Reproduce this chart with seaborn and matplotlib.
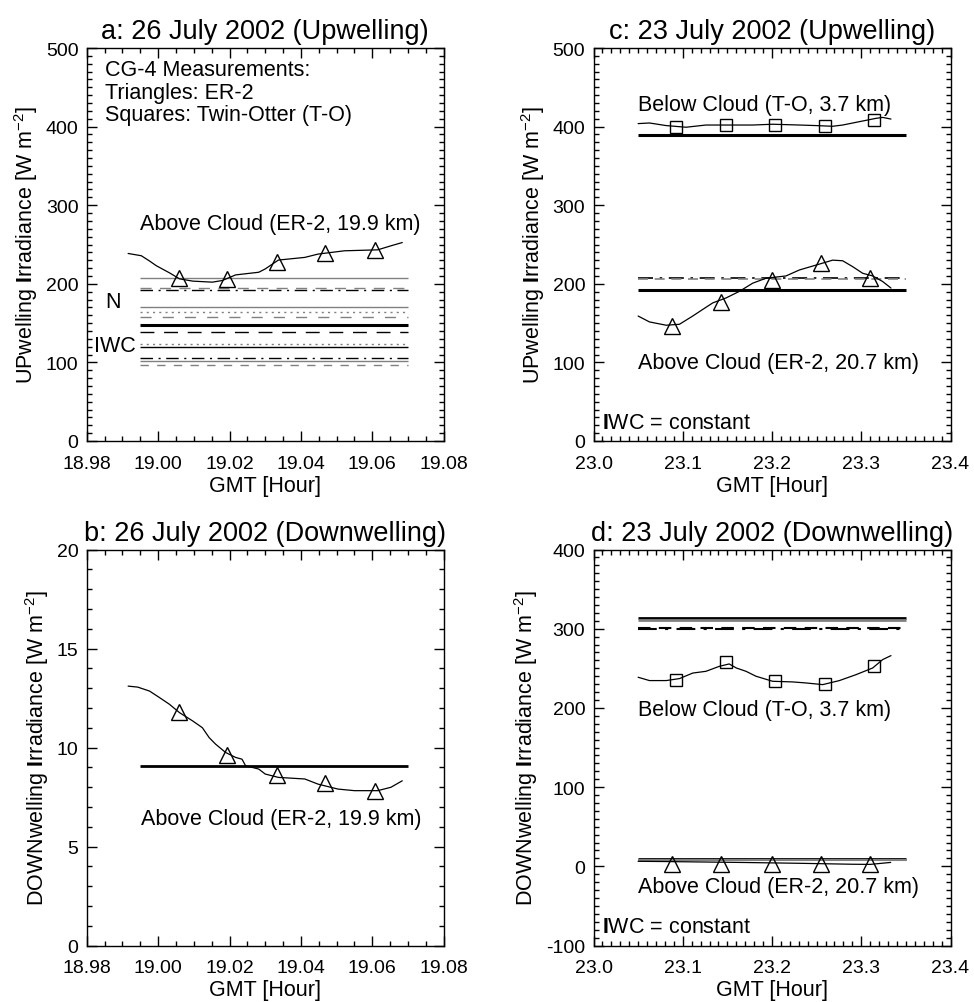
import matplotlib
matplotlib.use("Agg")
import matplotlib.pyplot as plt
import seaborn as sns
import pandas as pd
from matplotlib.ticker import MultipleLocator, AutoMinorLocator, FormatStrFormatter

# ---------------- data ----------------
# Panel a: 26 July 2002 upwelling, ER-2 above cloud
a_time = [18.9916, 18.9953, 18.9976, 18.9995, 19.0032, 19.0060, 19.0097, 19.0152, 19.0180,
          19.0217, 19.0282, 19.0300, 19.0337, 19.0411, 19.0448, 19.0522, 19.0615, 19.0652, 19.0684]
a_up = [238.6, 235.7, 229.0, 223.0, 213.9, 206.3, 203.4, 202.1, 204.2,
        211.3, 214.7, 218.9, 230.2, 233.6, 237.8, 242.0, 243.2, 248.3, 252.5]
a_mk_time = [19.0058, 19.0194, 19.0332, 19.0468, 19.0608]
a_mk_up = [207.0, 206.0, 228.0, 239.0, 242.5]
a_model = [208.0, 195.0, 191.5, 170.0, 164.0, 158.0, 147.0, 139.0, 123.0, 119.5, 106.0, 102.0, 96.5]
a_model_span = [18.995, 19.070]

# Panel b: 26 July 2002 downwelling, ER-2 above cloud
b_time = [18.9916, 18.9943, 18.9976, 19.0004, 19.0032, 19.0060, 19.0097, 19.0124, 19.0143,
          19.0161, 19.0189, 19.0217, 19.0235, 19.0245, 19.0282, 19.0300, 19.0337, 19.0411,
          19.0448, 19.0504, 19.0550, 19.0615, 19.0652, 19.0684]
b_down = [13.10, 13.05, 12.85, 12.52, 12.18, 11.76, 11.34, 11.00, 10.50,
          10.17, 9.75, 9.50, 9.41, 9.08, 8.91, 8.66, 8.49, 8.41,
          8.15, 7.90, 7.82, 7.82, 7.99, 8.32]
b_mk_time = [19.0058, 19.0194, 19.0332, 19.0468, 19.0608]
b_mk_down = [11.8, 9.6, 8.6, 8.2, 7.8]
b_model = [9.08]
b_model_span = [18.995, 19.070]

# Panel c: 23 July 2002 upwelling
c_er2_time = [23.0500, 23.0627, 23.0814, 23.0963, 23.1112, 23.1224, 23.1336, 23.1485, 23.1635,
              23.1784, 23.1933, 23.2157, 23.2307, 23.2493, 23.2680, 23.2792, 23.2904, 23.3016,
              23.3128, 23.3240, 23.3333]
c_er2_up = [159.0, 151.5, 147.3, 148.5, 159.0, 167.4, 175.7, 182.0, 190.4,
            200.8, 207.1, 210.0, 217.6, 223.8, 230.1, 229.3, 221.8, 213.4,
            210.0, 202.9, 194.6]
c_er2_mk_time = [23.0877, 23.1430, 23.2000, 23.2550, 23.3100]
c_er2_mk_up = [146.0, 176.5, 205.0, 227.0, 208.0]
c_to_time = [23.0500, 23.0627, 23.0814, 23.1037, 23.1260, 23.1485, 23.1784, 23.2007,
             23.2307, 23.2493, 23.2680, 23.2792, 23.2980, 23.3165, 23.3240, 23.3333]
c_to_up = [403.8, 404.6, 401.3, 399.2, 402.0, 402.0, 402.0, 403.0,
           402.0, 401.3, 400.4, 402.0, 406.3, 410.5, 411.7, 409.6]
c_to_mk_time = [23.0925, 23.1485, 23.2037, 23.2594, 23.3147]
c_to_mk_up = [400.0, 402.5, 402.5, 401.0, 408.0]
c_model = [388.7, 207.5, 206.0, 192.5]
c_model_span = [23.05, 23.35]

# Panel d: 23 July 2002 downwelling
d_to_time = [23.0500, 23.0627, 23.0814, 23.0963, 23.1112, 23.1260, 23.1410, 23.1520, 23.1600,
             23.1709, 23.1820, 23.2007, 23.2231, 23.2380, 23.2568, 23.2755, 23.2942, 23.3128,
             23.3240, 23.3333]
d_to_down = [238.7, 234.5, 234.5, 237.0, 244.0, 246.2, 252.5, 255.5, 250.4,
             246.2, 240.0, 233.6, 232.8, 231.5, 229.4, 234.5, 242.0, 250.4,
             261.0, 266.0]
d_to_mk_time = [23.0925, 23.1485, 23.2037, 23.2594, 23.3147]
d_to_mk_down = [235.7, 257.6, 233.6, 230.7, 252.5]
d_er2_time = [23.05, 23.08, 23.11, 23.14, 23.17, 23.20, 23.23, 23.26, 23.29, 23.31, 23.333]
d_er2_down = [6.3, 6.0, 5.6, 5.2, 4.8, 4.3, 3.8, 3.2, 2.6, 2.4, 4.9]
d_er2_mk_time = [23.0877, 23.1430, 23.2000, 23.2550, 23.3100]
d_er2_mk_down = [3.0, 3.0, 3.0, 3.0, 2.5]
d_model = [313.4, 310.5, 301.0, 299.5, 9.5, 8.0]
d_model_span = [23.05, 23.35]

titles = ["a: 26 July 2002 (Upwelling)", "b: 26 July 2002 (Downwelling)",
          "c: 23 July 2002 (Upwelling)", "d: 23 July 2002 (Downwelling)"]
ylab_up = r"UPwelling $\mathbf{I}$rradiance [W m$^{-2}$]"
ylab_down = r"DOWNwelling $\mathbf{I}$rradiance [W m$^{-2}$]"
xlab = "GMT [Hour]"

# ---------------- style ----------------
sns.set_style("ticks")
plt.rcParams["font.family"] = ["Liberation Sans", "DejaVu Sans"]
plt.rcParams["mathtext.fontset"] = "custom"
plt.rcParams["mathtext.rm"] = "Liberation Sans"
plt.rcParams["mathtext.bf"] = "Liberation Sans:bold"
plt.rcParams["mathtext.it"] = "Liberation Sans:italic"
plt.rcParams["axes.linewidth"] = 1.0
plt.rcParams["axes.unicode_minus"] = False
for key in ["text.color", "axes.labelcolor", "xtick.color", "ytick.color",
            "axes.edgecolor", "axes.titlecolor"]:
    plt.rcParams[key] = "black"

GRAY = "#808080"
TXT = 15.5
fig = plt.figure(figsize=(9.74, 10.03), dpi=100)
W = 357 / 974
ax_a = fig.add_axes([86.7 / 974, (1003 - 442) / 1003, W, 393 / 1003])
ax_c = fig.add_axes([593.5 / 974, (1003 - 442) / 1003, W, 393 / 1003])
ax_b = fig.add_axes([86.7 / 974, (1003 - 946.5) / 1003, W, 396 / 1003])
ax_d = fig.add_axes([593.5 / 974, (1003 - 946.5) / 1003, W, 396 / 1003])


def curve(ax, x, y):
    sns.lineplot(x=x, y=y, ax=ax, color="black", lw=0.9, sort=False, estimator=None)


def marks(ax, x, y, m, ms):
    sns.lineplot(x=x, y=y, ax=ax, marker=m, markersize=ms, linestyle="",
                 markerfacecolor="none", markeredgecolor="black", markeredgewidth=1.0,
                 color="black", sort=False, estimator=None)


def hline(ax, y, span, color, ls, lw):
    ax.hlines(y, span[0], span[1], colors=color, linestyles=ls, linewidth=lw)


def style_axes(ax, xlim, ylim, xmaj, xminn, ymaj, yminn, xfmt, title, ylabel):
    ax.set_xlim(*xlim)
    ax.set_ylim(*ylim)
    ax.xaxis.set_major_locator(MultipleLocator(xmaj))
    ax.xaxis.set_minor_locator(AutoMinorLocator(xminn))
    ax.yaxis.set_major_locator(MultipleLocator(ymaj))
    ax.yaxis.set_minor_locator(AutoMinorLocator(yminn))
    ax.xaxis.set_major_formatter(FormatStrFormatter(xfmt))
    ax.tick_params(which="both", direction="in", top=True, right=True, labelsize=14, width=1)
    ax.tick_params(which="major", length=7)
    ax.tick_params(axis="y", which="major", pad=6)
    ax.tick_params(axis="x", which="major", pad=10)
    ax.tick_params(which="minor", length=3.5)
    ax.set_title(title, fontsize=19.5, pad=7)
    ax.set_xlabel(xlab, fontsize=TXT, labelpad=2)
    ax.set_ylabel(ylabel, fontsize=TXT, labelpad=4)
    for s in ax.spines.values():
        s.set_visible(True)
        s.set_color("black")


# ---- panel a ----
a_styles = [(GRAY, "solid", 1.0), (GRAY, (0, (8, 6)), 1.0), ("black", (0, (9, 4, 1.5, 4)), 1.0),
            (GRAY, "solid", 1.0), (GRAY, (0, (1.5, 3)), 1.0), (GRAY, (0, (8, 8)), 1.0),
            ("black", "solid", 2.2), ("black", (0, (10, 7)), 1.0), (GRAY, (0, (1.5, 3)), 1.0),
            ("black", "solid", 1.0), ("black", (0, (9, 4, 1.5, 4)), 1.0), (GRAY, "solid", 1.0),
            (GRAY, (0, (6, 6)), 1.0)]
for yv, (c, ls, lw) in zip(a_model, a_styles):
    hline(ax_a, yv, a_model_span, c, ls, lw)
curve(ax_a, a_time, a_up)
marks(ax_a, a_mk_time, a_mk_up, "^", 11)
ax_a.text(18.9852, 473, "CG-4 Measurements:", fontsize=TXT, va="center")
ax_a.text(18.9852, 444, "Triangles: ER-2", fontsize=TXT, va="center")
ax_a.text(18.9852, 415, "Squares: Twin-Otter (T-O)", fontsize=TXT, va="center")
ax_a.text(18.995, 277, "Above Cloud (ER-2, 19.9 km)", fontsize=TXT, va="center")
ax_a.text(18.9875, 178, "N", fontsize=TXT, va="center", ha="center")
ax_a.text(18.9880, 121, "IWC", fontsize=TXT, va="center", ha="center")
style_axes(ax_a, (18.98, 19.08), (0, 500), 0.02, 4, 100, 10, "%.2f", titles[0], ylab_up)

# ---- panel b ----
hline(ax_b, b_model[0], b_model_span, "black", "solid", 2.0)
curve(ax_b, b_time, b_down)
marks(ax_b, b_mk_time, b_mk_down, "^", 11)
ax_b.text(18.9953, 6.4, "Above Cloud (ER-2, 19.9 km)", fontsize=TXT, va="center")
style_axes(ax_b, (18.98, 19.08), (0, 20), 0.02, 4, 5, 5, "%.2f", titles[1], ylab_down)

# ---- panel c ----
c_styles = [("black", "solid", 2.2), ("black", (0, (9, 4, 1.5, 4)), 1.2),
            (GRAY, (0, (6, 4)), 1.2), ("black", "solid", 2.2)]
for yv, (c, ls, lw) in zip(c_model, c_styles):
    hline(ax_c, yv, c_model_span, c, ls, lw)
curve(ax_c, c_to_time, c_to_up)
marks(ax_c, c_to_mk_time, c_to_mk_up, "s", 9)
curve(ax_c, c_er2_time, c_er2_up)
marks(ax_c, c_er2_mk_time, c_er2_mk_up, "^", 11)
ax_c.text(23.05, 428, "Below Cloud (T-O, 3.7 km)", fontsize=TXT, va="center")
ax_c.text(23.05, 100, "Above Cloud (ER-2, 20.7 km)", fontsize=TXT, va="center")
ax_c.text(23.01, 23, r"$\mathbf{I}$WC = constant", fontsize=TXT, va="center")
style_axes(ax_c, (23.0, 23.4), (0, 500), 0.1, 10, 100, 10, "%.1f", titles[2], ylab_up)

# ---- panel d ----
d_styles = [("black", "solid", 2.0), (GRAY, "solid", 2.0), ("black", (0, (6, 4)), 1.5),
            ("black", (0, (9, 4, 1.5, 4)), 1.5), ("black", "solid", 2.0), (GRAY, "solid", 1.5)]
for yv, (c, ls, lw) in zip(d_model, d_styles):
    hline(ax_d, yv, d_model_span, c, ls, lw)
curve(ax_d, d_to_time, d_to_down)
marks(ax_d, d_to_mk_time, d_to_mk_down, "s", 9)
curve(ax_d, d_er2_time, d_er2_down)
marks(ax_d, d_er2_mk_time, d_er2_mk_down, "^", 11)
ax_d.text(23.05, 198, "Below Cloud (T-O, 3.7 km)", fontsize=TXT, va="center")
ax_d.text(23.05, -26, "Above Cloud (ER-2, 20.7 km)", fontsize=TXT, va="center")
ax_d.text(23.01, -76, r"$\mathbf{I}$WC = constant", fontsize=TXT, va="center")
style_axes(ax_d, (23.0, 23.4), (-100, 400), 0.1, 10, 100, 10, "%.1f", titles[3], ylab_down)

fig.savefig("out.png", dpi=100)
